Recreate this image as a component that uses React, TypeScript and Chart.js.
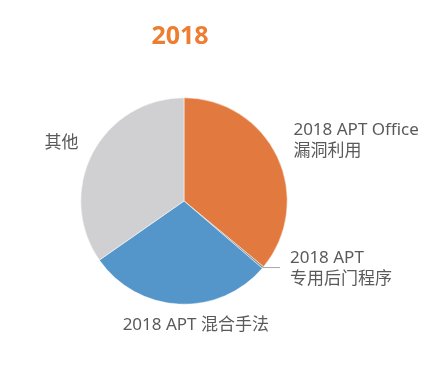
import React, { useEffect, useRef } from "react";
import { Chart, registerables } from "chart.js";

Chart.register(...registerables);

const titleText = "2018";
const categories = ["2018 APT Office\n漏洞利用", "2018 APT\n专用后门程序", "2018 APT 混合手法", "其他"];
const values = [36, 0.3, 29, 34.7];
const sliceColors = ["#E27A3F", "#8E8E8E", "#5496CA", "#D0D0D2"];
// label offsets from the slice's outer edge point: [dx, dy, align]
const labelOffsets: [number, number, CanvasTextAlign][] = [
  [16, -16, "left"],
  [27, 1, "left"],
  [17, 21, "center"],
  [-14, -10, "right"],
];

const labelPlugin = {
  id: "pieLabels",
  afterDraw(chart: any) {
    const ctx = chart.ctx as CanvasRenderingContext2D;
    const meta = chart.getDatasetMeta(0);
    ctx.save();
    ctx.fillStyle = "#ED7D31";
    ctx.font = "bold 25px 'Noto Sans', 'Noto Sans CJK SC', sans-serif";
    ctx.textAlign = "center";
    ctx.textBaseline = "middle";
    ctx.fillText(titleText, meta.data[0].x - 4, 37);

    ctx.font = "17px 'Noto Sans', 'Noto Sans CJK SC', sans-serif";
    ctx.fillStyle = "#5A5A5A";
    meta.data.forEach((arc: any, i: number) => {
      const mid = (arc.startAngle + arc.endAngle) / 2;
      const ex = arc.x + Math.cos(mid) * arc.outerRadius;
      const ey = arc.y + Math.sin(mid) * arc.outerRadius;
      const [dx, dy, align] = labelOffsets[i];
      const lines = categories[i].split("\n");
      const lh = 21;
      const lx = ex + dx;
      const ly = ey + dy;
      if (i === 1) {
        ctx.strokeStyle = "#A6A6A6";
        ctx.lineWidth = 1;
        ctx.beginPath();
        ctx.moveTo(ex, ey);
        ctx.lineTo(ex + 17, ey);
        ctx.stroke();
      }
      ctx.textAlign = align;
      ctx.textBaseline = "middle";
      lines.forEach((t, k) => {
        ctx.fillText(t, lx, ly + (k - (lines.length - 1) / 2) * lh);
      });
    });
    ctx.restore();
  },
};

export default function App() {
  const ref = useRef<HTMLCanvasElement>(null);
  useEffect(() => {
    document.body.style.margin = "0";
    document.body.style.background = "#ffffff";
    const chart = new Chart(ref.current!, {
      type: "pie",
      data: {
        labels: categories,
        datasets: [
          {
            data: values,
            backgroundColor: sliceColors,
            borderColor: "#ffffff",
            borderWidth: 0.5,
          },
        ],
      },
      options: {
        responsive: false,
        animation: false,
        events: [],
        layout: { padding: { left: 80.5, right: 153.5, top: 97.5, bottom: 60.5 } },
        plugins: {
          legend: { display: false },
          title: { display: false },
          tooltip: { enabled: false },
        },
      },
      plugins: [labelPlugin],
    });
    return () => chart.destroy();
  }, []);
  return (
    <div style={{ width: 441, height: 365, background: "#fff" }}>
      <canvas ref={ref} width={441} height={365} style={{ display: "block" }} />
    </div>
  );
}
